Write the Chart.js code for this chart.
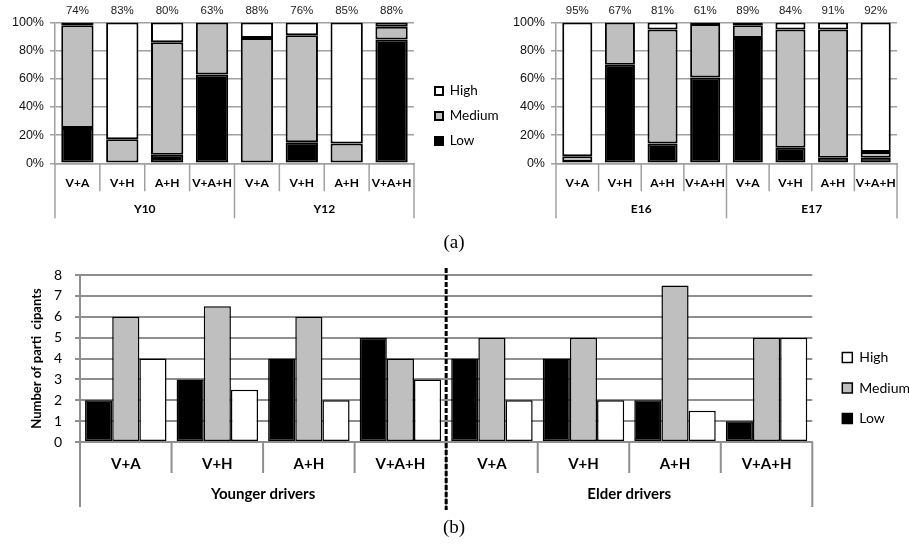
<!DOCTYPE html>
<html><head><meta charset="utf-8">
<script src="https://cdn.jsdelivr.net/npm/chart.js@4.4.1/dist/chart.umd.min.js"></script>
<style>
html,body{margin:0;padding:0;background:#fff;}
body{width:909px;height:544px;position:relative;overflow:hidden;}
canvas{position:absolute;}
.cap{position:absolute;font-family:"Liberation Serif","Times New Roman",serif;font-size:19px;color:#000;transform:translateX(-50%);line-height:1;}
</style></head><body>
<canvas id="c1" width="507" height="232" style="left:0;top:0"></canvas>
<canvas id="c2" width="409" height="232" style="left:500px;top:0"></canvas>
<canvas id="c3" width="920" height="258" style="left:0;top:258px"></canvas>
<div class="cap" style="left:454px;top:232px">(a)</div>
<div class="cap" style="left:454px;top:517px">(b)</div>
<script>
// ---------- data ----------
const comboLabels = ['V+A','V+H','A+H','V+A+H'];
const eightCombos = comboLabels.concat(comboLabels);
const levelNames = ['Low','Medium','High'];

const youngGroups = ['Y10','Y12'];
const youngLow    = [25, 0,  6, 63,   0, 15,  0, 88];
const youngMedium = [73, 17, 80, 37,  89, 76, 14,  9];
const youngHigh   = [2,  83, 14,  0,  11,  9, 86,  3];
const youngPct    = [74, 83, 80, 63,  88, 76, 85, 88];

const elderGroups = ['E16','E17'];
const elderLow    = [1,  70, 14, 61,  89, 11,  4,  4];
const elderMedium = [4,  30, 81, 38,   9, 84, 91,  4];
const elderHigh   = [95,  0,  5,  1,   2,  5,  5, 92];
const elderPct    = [95, 67, 81, 61,  89, 84, 91, 92];

const driverGroups = ['Younger drivers','Elder drivers'];
const lowCounts    = [2, 3,   4, 5,  4, 4, 2,   1];
const mediumCounts = [6, 6.5, 6, 4,  5, 5, 7.5, 5];
const highCounts   = [4, 2.5, 2, 3,  2, 2, 1.5, 5];

const pctTicks = [0,20,40,60,80,100];

// ---------- styles ----------
const fillLow = '#000000', fillMed = '#bfbfbf', fillHigh = '#ffffff';
Chart.defaults.font.family = 'Lato';
Chart.defaults.color = '#000';
Chart.defaults.animation = false;

// ---------- plugins ----------
const groupAxis = {
  id: 'groupAxis',
  afterDraw(chart, args, o) {
    if (!o || !o.groups) return;
    const xs = chart.scales.x, ctx = chart.ctx, n = chart.data.labels.length;
    ctx.save();
    ctx.strokeStyle = o.lineColor; ctx.lineWidth = o.lineWidth;
    for (let i = 0; i <= n; i++) {
      const px = xs.getPixelForValue(i - 0.5);
      const len = (i % o.groupSize === 0) ? o.longLen : o.shortLen;
      ctx.beginPath(); ctx.moveTo(px, xs.top); ctx.lineTo(px, xs.top + len); ctx.stroke();
    }
    ctx.font = o.font; ctx.fillStyle = '#000'; ctx.textAlign = 'center'; ctx.textBaseline = 'middle';
    o.groups.forEach((g, k) => {
      const a = xs.getPixelForValue(k * o.groupSize - 0.5);
      const b = xs.getPixelForValue((k + 1) * o.groupSize - 0.5);
      ctx.fillText(g, (a + b) / 2, xs.top + o.labelOffset);
    });
    ctx.restore();
  }
};
const barTopLabels = {
  id: 'barTopLabels',
  afterDatasetsDraw(chart, args, o) {
    if (!o || !o.values) return;
    const xs = chart.scales.x, ctx = chart.ctx;
    ctx.save(); ctx.font = o.font; ctx.fillStyle = o.color;
    ctx.textAlign = 'center'; ctx.textBaseline = 'middle';
    o.values.forEach((v, i) => ctx.fillText(v + '%', xs.getPixelForValue(i), chart.chartArea.top - o.offset));
    ctx.restore();
  }
};
const dividerLine = {
  id: 'dividerLine',
  afterDraw(chart, args, o) {
    if (!o || o.after == null) return;
    const xs = chart.scales.x, ctx = chart.ctx;
    const px = xs.getPixelForValue(o.after + 0.5);
    ctx.save(); ctx.strokeStyle = '#000'; ctx.lineWidth = o.width; ctx.setLineDash(o.dash);
    ctx.beginPath(); ctx.moveTo(px, chart.chartArea.top - o.above); ctx.lineTo(px, xs.top + o.below); ctx.stroke();
    ctx.restore();
  }
};

function barSet(label, data, color, extra) {
  return Object.assign({label, data, backgroundColor: color, borderColor: '#000', borderWidth: 2, borderSkipped: false}, extra || {});
}

function stackedChart(id, low, med, high, pct, groups, cfg) {
  const scales = {
    x: {
      stacked: true,
      grid: {display: false, drawTicks: false},
      border: {color: '#a0a0a0', width: 1.5},
      ticks: {font: {family: 'Lato', weight: 'bold', size: 12}, color: '#000', padding: 13, maxRotation: 0, autoSkip: false}
    },
    y: {
      stacked: true, min: 0, max: 100,
      afterBuildTicks(s) { s.ticks = pctTicks.map(v => ({value: v})); },
      ticks: {callback: v => v + '%', font: {family: 'Liberation Sans', size: 12.5}, color: '#111', padding: 6},
      grid: {color: '#a0a0a0', lineWidth: 1.5, tickLength: 5, drawTicks: true},
      border: {color: '#a0a0a0', width: 1.5}
    }
  };
  if (cfg.gap) {
    scales.gap = {type: 'linear', position: 'right', display: true, grid: {display: false, drawTicks: false},
      border: {display: false}, ticks: {display: false}, afterFit(s) { s.width = cfg.gap; }};
  }
  return new Chart(document.getElementById(id), {
    type: 'bar',
    data: {
      labels: eightCombos,
      datasets: [
        barSet(levelNames[0], low, fillLow),
        barSet(levelNames[1], med, fillMed),
        barSet(levelNames[2], high, fillHigh)
      ]
    },
    options: {
      responsive: false,
      categoryPercentage: cfg.catPct, barPercentage: 1,
      layout: {padding: cfg.padding},
      scales,
      plugins: {
        legend: cfg.legend ? {
          display: true, position: 'right', reverse: true,
          title: {display: true, text: ' ', font: {size: 5}, padding: 0},
          labels: {boxWidth: 8, boxHeight: 8, padding: 11.5, font: {family: 'Lato', size: 13.5}, color: '#000'}
        } : {display: false},
        tooltip: {enabled: false},
        groupAxis: {groups, groupSize: 4, shortLen: 28, longLen: 55, labelOffset: 46,
          lineColor: '#a0a0a0', lineWidth: 1.5, font: 'bold 12px Lato'},
        barTopLabels: {values: pct, offset: 11.5, font: '11.5px "Liberation Sans"', color: '#222'}
      }
    },
    plugins: [groupAxis, barTopLabels]
  });
}

stackedChart('c1', youngLow, youngMedium, youngHigh, youngPct, youngGroups,
  {catPct: 0.72, padding: {top: 22.5, bottom: 28.3, left: 6, right: 0}, legend: true, gap: 9.5});
stackedChart('c2', elderLow, elderMedium, elderHigh, elderPct, elderGroups,
  {catPct: 0.705, padding: {top: 22.5, bottom: 28.3, left: 7, right: 6}, legend: false});

// ---------- bottom chart ----------
new Chart(document.getElementById('c3'), {
  type: 'bar',
  data: {
    labels: eightCombos,
    datasets: [
      barSet(levelNames[0], lowCounts, fillLow, {borderWidth: 1.5}),
      barSet(levelNames[1], mediumCounts, fillMed, {borderWidth: 1.5}),
      barSet(levelNames[2], highCounts, fillHigh, {borderWidth: 1.5})
    ]
  },
  options: {
    responsive: false,
    categoryPercentage: 0.89, barPercentage: 1,
    layout: {padding: {top: 17, bottom: 30, left: 29, right: 0}},
    scales: {
      x: {
        grid: {display: false, drawTicks: false},
        border: {color: '#8f8f8f', width: 2},
        ticks: {font: {family: 'Lato', weight: 'bold', size: 15}, color: '#000', padding: 13, maxRotation: 0, autoSkip: false}
      },
      y: {
        min: 0, max: 8,
        ticks: {stepSize: 1, autoSkip: false, font: {family: 'Lato', size: 14, lineHeight: 0.5}, color: '#000', padding: 13},
        grid: {color: '#8f8f8f', lineWidth: 2, tickLength: 5},
        border: {color: '#8f8f8f', width: 2},
        title: {display: true, text: 'Number of parti  cipants', font: {family: 'Lato', weight: 'bold', size: 13}, color: '#000', padding: {top: 0, bottom: -3.7}}
      },
      gap: {type: 'linear', position: 'right', display: true, grid: {display: false, drawTicks: false},
        border: {display: false}, ticks: {display: false}, afterFit(s) { s.width = 13.5; }}
    },
    plugins: {
      legend: {
        display: true, position: 'right', reverse: true,
        title: {display: true, text: ' ', font: {size: 10}, padding: 1.5},
        labels: {boxWidth: 10, boxHeight: 10, padding: 16.5, font: {family: 'Lato', size: 14}, color: '#000'}
      },
      tooltip: {enabled: false},
      groupAxis: {groups: driverGroups, groupSize: 4, shortLen: 31, longLen: 65, labelOffset: 52,
        lineColor: '#8f8f8f', lineWidth: 2, font: 'bold 15px Lato'},
      dividerLine: {after: 3, width: 3, dash: [5, 2], above: 7, below: 68}
    }
  },
  plugins: [groupAxis, dividerLine]
});
</script>
</body></html>
